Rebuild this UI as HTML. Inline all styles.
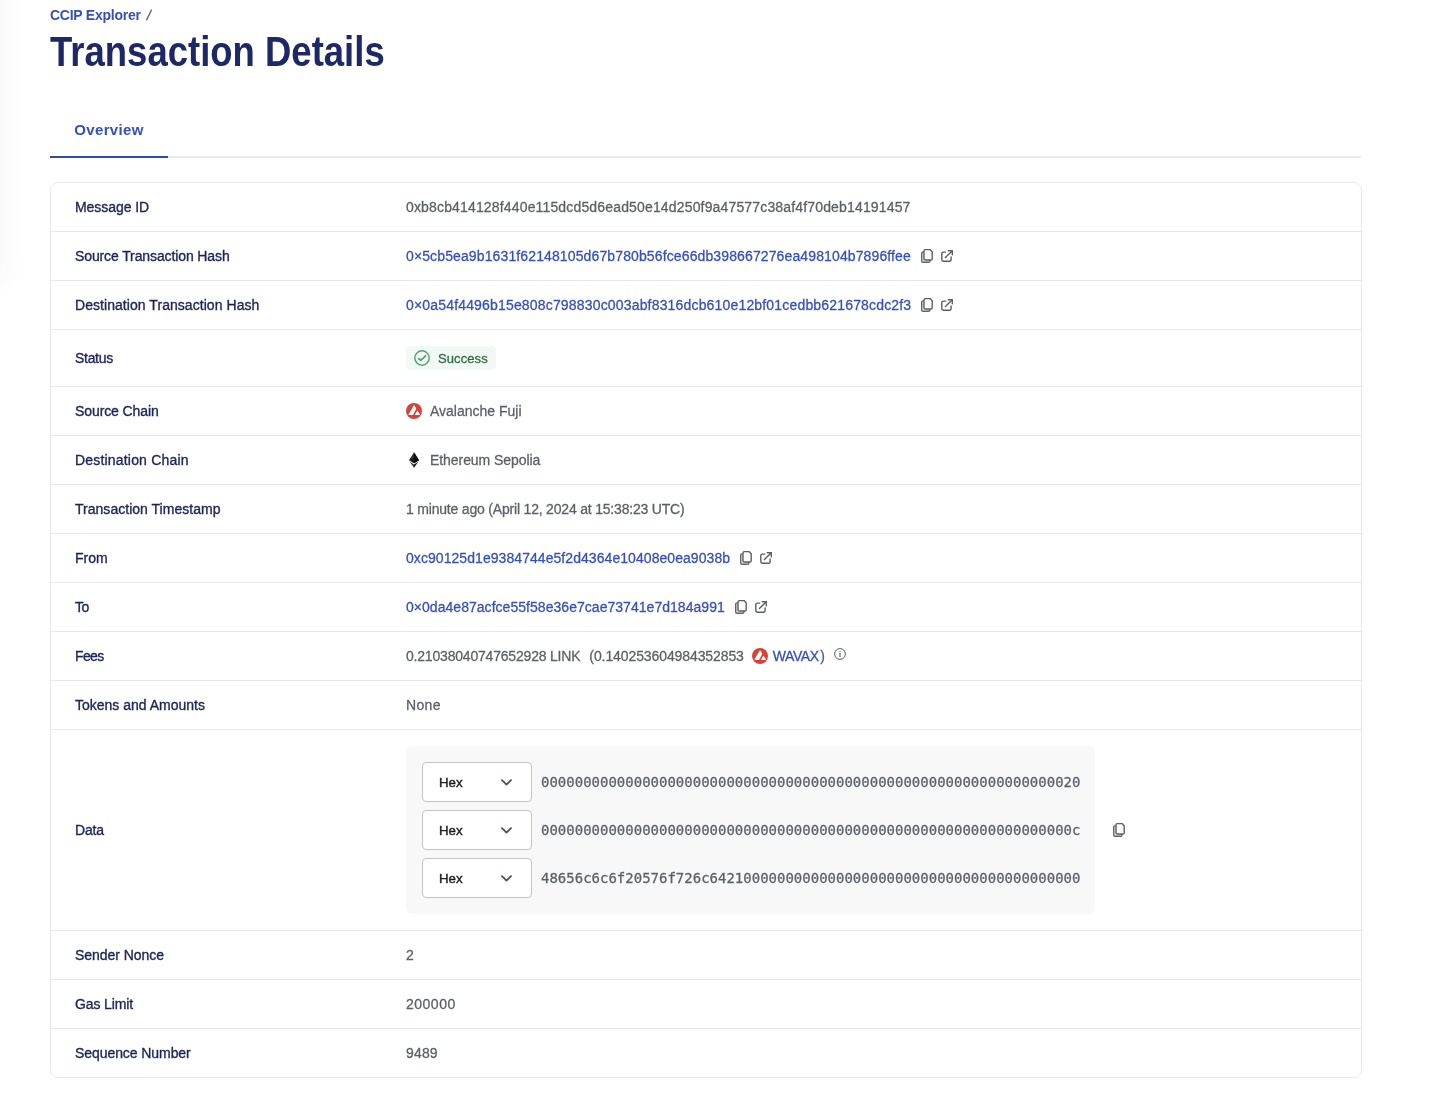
<!DOCTYPE html>
<html lang="en">
<head>
<meta charset="utf-8">
<title>Transaction Details</title>
<style>
*{box-sizing:border-box;margin:0;padding:0}
html,body{width:1435px;height:1114px;background:#fff;overflow:hidden}
body{font-family:"Liberation Sans",sans-serif;color:#5c5f69;position:relative;-webkit-font-smoothing:antialiased}
.edge{position:absolute;left:-20px;top:-20px;width:22px;height:296px;background:#f9fafc;box-shadow:0 0 22px 6px rgba(60,70,120,.035)}
.crumb{position:absolute;left:50px;top:6px;font-size:14px;line-height:18px;font-weight:700;color:#3650b8;white-space:nowrap}
.crumb span{color:#5c5f69;font-weight:400;margin-left:6px;font-size:14px;display:inline-block;transform:skewX(-12deg);-webkit-text-stroke:.3px}
h1{position:absolute;left:50px;top:28px;font-size:42.5px;line-height:48px;font-weight:700;color:#1d2866;white-space:nowrap;transform-origin:0 50%;transform:scaleX(0.8588)}
.tabs{position:absolute;left:50px;top:104px;width:1311px;height:54px;border-bottom:2px solid #e8e9ec}
.tab{position:absolute;left:0;top:0;width:118px;height:54px;border-bottom:2px solid #3048b0;color:#3650b8;font-size:15px;font-weight:700;line-height:51px;text-align:center}
.card{position:absolute;left:50px;top:182px;width:1312px;border:1px solid #e8e9ec;border-radius:8px;overflow:hidden}
.row{display:flex;align-items:center;height:49px;border-bottom:1px solid #e8e9ec;font-size:14px}
.row:last-child{border-bottom:0;height:48px}
.row.status{height:57px}
.row.data{height:201px}
.lbl{width:355px;padding-left:24px;color:#1b2559;font-size:14px;white-space:nowrap;-webkit-text-stroke:.35px #1b2559}
.val{flex:1;display:flex;align-items:center;white-space:nowrap;color:#5c5f69;-webkit-text-stroke:.28px}
a{color:#3650b8;text-decoration:none}
.ic{display:inline-block;flex:none}

.acts{display:inline-flex;align-items:center;margin-left:10px}
.acts .cp{margin-right:8px}
.ic{overflow:visible}
.badge{display:inline-flex;align-items:center;height:24px;padding:0 8px 0 8px;background:#f2f8f3;border-radius:4px;color:#2f6b45;font-size:13px}
.badge .ck{margin-right:8px}
.cn{margin-left:8px}
.ew{display:inline-flex;width:16px;justify-content:center}
.f2{margin-left:9px}
.av2{margin-left:8px;margin-right:5px}
.f4{margin-left:1.5px}
.in{margin-left:9px;position:relative;top:-2px}
.dbox{width:689px;height:168px;background:#f8f8f9;border-radius:6px;padding:16px;display:flex;flex-direction:column;gap:8px}
.dl{display:flex;align-items:center;height:40px}
.sel{flex:none;width:110px;height:40px;border:1px solid #c3c4c8;border-radius:4px;background:#fff;display:flex;align-items:center;justify-content:space-between;padding:0 19px 0 16px;color:#1c1c1f;font-size:13.3px;-webkit-text-stroke:.4px}
.mono{font-family:"DejaVu Sans Mono","Liberation Mono",monospace;font-size:14px;margin-left:9px;color:#5c5f69}
.cp2{margin-left:18px}
/*FIT*/
#crumb{letter-spacing:-0.250px}
#tab{letter-spacing:0.357px}
#l-mid{letter-spacing:-0.055px}
#l-src{letter-spacing:-0.115px}
#l-dst{letter-spacing:0.054px}
#l-st{letter-spacing:-0.300px}
#l-sc{letter-spacing:-0.093px}
#l-dc{letter-spacing:0.186px}
#l-ts{letter-spacing:0.025px}
#l-from{letter-spacing:-0.001px}
#l-to{letter-spacing:-0.500px}
#l-fee{letter-spacing:-0.666px}
#l-tok{letter-spacing:0.001px}
#l-data{letter-spacing:-0.167px}
#l-sn{letter-spacing:-0.045px}
#l-gl{letter-spacing:-0.125px}
#l-sq{letter-spacing:-0.071px}
#v-mid{letter-spacing:0.158px}
#v-src{letter-spacing:0.122px}
#v-dst{letter-spacing:0.172px}
#v-st{letter-spacing:0.083px}
#v-sc{letter-spacing:0.000px}
#v-dc{letter-spacing:-0.067px}
#v-ts{letter-spacing:-0.193px}
#v-from{letter-spacing:0.061px}
#v-to{letter-spacing:0.037px}
#v-f1{letter-spacing:-0.196px}
#v-f2{letter-spacing:-0.100px}
#v-f3{letter-spacing:-0.4px}
#v-tok{letter-spacing:0.333px}
#v-sn{letter-spacing:-1.000px}
#v-gl{letter-spacing:0.500px}
#v-sq{letter-spacing:0.167px}
/*ENDFIT*/
</style>
</head>
<body>
<div class="edge"></div>
<div class="crumb"><b id="crumb">CCIP Explorer</b><span>/</span></div>
<h1 id="ttl">Transaction Details</h1>
<div class="tabs"><div class="tab"><span id="tab">Overview</span></div></div>
<div class="card">
  <div class="row"><div class="lbl"><span id="l-mid">Message ID</span></div><div class="val"><span id="v-mid">0xb8cb414128f440e115dcd5d6ead50e14d250f9a47577c38af4f70deb14191457</span></div></div>
  <div class="row"><div class="lbl"><span id="l-src">Source Transaction Hash</span></div><div class="val"><a id="v-src">0×5cb5ea9b1631f62148105d67b780b56fce66db398667276ea498104b7896ffee</a><span class="acts"><svg class="ic cp" width="12" height="14" viewBox="0 0 12 14" fill="none" stroke="#5c5e66" stroke-width="1.4" stroke-linejoin="round" stroke-linecap="round"><path d="M3 2.9H2A1.3 1.3 0 0 0 .7 4.2V12A1.3 1.3 0 0 0 2 13.3h5.6A1.3 1.3 0 0 0 8.9 12v-1" stroke="#63656d" fill="#e9ebef"/><path d="M4.3.6h4.7l2.2 2.2v6.9A1.3 1.3 0 0 1 9.9 11H4.3A1.3 1.3 0 0 1 3 9.7V1.9A1.3 1.3 0 0 1 4.3.6z" fill="#fff"/></svg><svg class="ic ex" width="12" height="12" viewBox="0 0 12 12" fill="none" stroke="#5c5e66" stroke-width="1.4" stroke-linejoin="round" stroke-linecap="round"><path d="M4.7 2.1H2.2A1.4 1.4 0 0 0 .8 3.5v6.3A1.4 1.4 0 0 0 2.2 11.2h6.5a1.4 1.4 0 0 0 1.4-1.4V6.9"/><path d="M7.3.7h4v4"/><path d="M11.3.7L4.4 7.6"/></svg></span></div></div>
  <div class="row"><div class="lbl"><span id="l-dst">Destination Transaction Hash</span></div><div class="val"><a id="v-dst">0×0a54f4496b15e808c798830c003abf8316dcb610e12bf01cedbb621678cdc2f3</a><span class="acts"><svg class="ic cp" width="12" height="14" viewBox="0 0 12 14" fill="none" stroke="#5c5e66" stroke-width="1.4" stroke-linejoin="round" stroke-linecap="round"><path d="M3 2.9H2A1.3 1.3 0 0 0 .7 4.2V12A1.3 1.3 0 0 0 2 13.3h5.6A1.3 1.3 0 0 0 8.9 12v-1" stroke="#63656d" fill="#e9ebef"/><path d="M4.3.6h4.7l2.2 2.2v6.9A1.3 1.3 0 0 1 9.9 11H4.3A1.3 1.3 0 0 1 3 9.7V1.9A1.3 1.3 0 0 1 4.3.6z" fill="#fff"/></svg><svg class="ic ex" width="12" height="12" viewBox="0 0 12 12" fill="none" stroke="#5c5e66" stroke-width="1.4" stroke-linejoin="round" stroke-linecap="round"><path d="M4.7 2.1H2.2A1.4 1.4 0 0 0 .8 3.5v6.3A1.4 1.4 0 0 0 2.2 11.2h6.5a1.4 1.4 0 0 0 1.4-1.4V6.9"/><path d="M7.3.7h4v4"/><path d="M11.3.7L4.4 7.6"/></svg></span></div></div>
  <div class="row status"><div class="lbl"><span id="l-st">Status</span></div><div class="val"><span class="badge"><svg class="ic ck" width="16" height="16" viewBox="0 0 16 16" fill="none" stroke="#58a56b" stroke-width="1.5" stroke-linecap="round" stroke-linejoin="round"><circle cx="8" cy="8" r="7.2"/><path d="M4.7 8.6l2.1 1.8 4.9-4.5" stroke="#4f9a60"/></svg><span id="v-st">Success</span></span></div></div>
  <div class="row"><div class="lbl"><span id="l-sc">Source Chain</span></div><div class="val"><svg class="ic av" width="16" height="16" viewBox="0 0 16 16"><circle cx="8" cy="8" r="8" fill="#d4443b"/><path d="M7.7 2.6c.2-.3.6-.3.8 0L10 5.2c.2.35.2.75 0 1.1l-2.7 5.1c-.2.4-.6.6-1 .6H3.1c-.5 0-.7-.4-.5-.8z" fill="#fff"/><path d="M11 8.3c.2-.35.7-.35.9 0l1.9 3c.2.35 0 .7-.4.7H9.5c-.4 0-.6-.35-.4-.7z" fill="#fff"/></svg><span class="cn" id="v-sc">Avalanche Fuji</span></div></div>
  <div class="row"><div class="lbl"><span id="l-dc">Destination Chain</span></div><div class="val"><span class="ew"><svg class="ic et" width="10" height="16" viewBox="0 0 10 16"><path d="M5 .3L0 8.3 5 11.2l5-2.9z" fill="#2e2e32"/><path d="M5 .3v10.9l5-2.9z" fill="#131316"/><path d="M0 8.3l5-2.2 5 2.2-5 2.9z" fill="#000" opacity=".35"/><path d="M.5 9.6L5 15.8V12.4z" fill="#3a3a3e"/><path d="M9.5 9.6L5 15.8v-3.4z" fill="#18181b"/></svg></span><span class="cn" id="v-dc">Ethereum Sepolia</span></div></div>
  <div class="row"><div class="lbl"><span id="l-ts">Transaction Timestamp</span></div><div class="val"><span id="v-ts">1 minute ago (April 12, 2024 at 15:38:23 UTC)</span></div></div>
  <div class="row"><div class="lbl"><span id="l-from">From</span></div><div class="val"><a id="v-from">0xc90125d1e9384744e5f2d4364e10408e0ea9038b</a><span class="acts"><svg class="ic cp" width="12" height="14" viewBox="0 0 12 14" fill="none" stroke="#5c5e66" stroke-width="1.4" stroke-linejoin="round" stroke-linecap="round"><path d="M3 2.9H2A1.3 1.3 0 0 0 .7 4.2V12A1.3 1.3 0 0 0 2 13.3h5.6A1.3 1.3 0 0 0 8.9 12v-1" stroke="#63656d" fill="#e9ebef"/><path d="M4.3.6h4.7l2.2 2.2v6.9A1.3 1.3 0 0 1 9.9 11H4.3A1.3 1.3 0 0 1 3 9.7V1.9A1.3 1.3 0 0 1 4.3.6z" fill="#fff"/></svg><svg class="ic ex" width="12" height="12" viewBox="0 0 12 12" fill="none" stroke="#5c5e66" stroke-width="1.4" stroke-linejoin="round" stroke-linecap="round"><path d="M4.7 2.1H2.2A1.4 1.4 0 0 0 .8 3.5v6.3A1.4 1.4 0 0 0 2.2 11.2h6.5a1.4 1.4 0 0 0 1.4-1.4V6.9"/><path d="M7.3.7h4v4"/><path d="M11.3.7L4.4 7.6"/></svg></span></div></div>
  <div class="row"><div class="lbl"><span id="l-to">To</span></div><div class="val"><a id="v-to">0×0da4e87acfce55f58e36e7cae73741e7d184a991</a><span class="acts"><svg class="ic cp" width="12" height="14" viewBox="0 0 12 14" fill="none" stroke="#5c5e66" stroke-width="1.4" stroke-linejoin="round" stroke-linecap="round"><path d="M3 2.9H2A1.3 1.3 0 0 0 .7 4.2V12A1.3 1.3 0 0 0 2 13.3h5.6A1.3 1.3 0 0 0 8.9 12v-1" stroke="#63656d" fill="#e9ebef"/><path d="M4.3.6h4.7l2.2 2.2v6.9A1.3 1.3 0 0 1 9.9 11H4.3A1.3 1.3 0 0 1 3 9.7V1.9A1.3 1.3 0 0 1 4.3.6z" fill="#fff"/></svg><svg class="ic ex" width="12" height="12" viewBox="0 0 12 12" fill="none" stroke="#5c5e66" stroke-width="1.4" stroke-linejoin="round" stroke-linecap="round"><path d="M4.7 2.1H2.2A1.4 1.4 0 0 0 .8 3.5v6.3A1.4 1.4 0 0 0 2.2 11.2h6.5a1.4 1.4 0 0 0 1.4-1.4V6.9"/><path d="M7.3.7h4v4"/><path d="M11.3.7L4.4 7.6"/></svg></span></div></div>
  <div class="row"><div class="lbl"><span id="l-fee">Fees</span></div><div class="val"><span class="f1" id="v-f1">0.21038040747652928 LINK</span><span class="f2" id="v-f2">(0.140253604984352853</span><svg class="ic av2" width="16" height="16" viewBox="0 0 16 16"><circle cx="8" cy="8" r="8" fill="#d4443b"/><path d="M7.7 2.6c.2-.3.6-.3.8 0L10 5.2c.2.35.2.75 0 1.1l-2.7 5.1c-.2.4-.6.6-1 .6H3.1c-.5 0-.7-.4-.5-.8z" fill="#fff"/><path d="M11 8.3c.2-.35.7-.35.9 0l1.9 3c.2.35 0 .7-.4.7H9.5c-.4 0-.6-.35-.4-.7z" fill="#fff"/></svg><a class="f3" id="v-f3">WAVAX</a><span class="f4">)</span><svg class="ic in" width="12" height="12" viewBox="0 0 12 12" fill="none" stroke="#5a5d68" stroke-width="1"><circle cx="6" cy="6" r="5.4"/><path d="M6 5.3v3.2" stroke-width="1.1" stroke-linecap="round"/><circle cx="6" cy="3.6" r=".65" fill="#5a5d68" stroke="none"/></svg></div></div>
  <div class="row"><div class="lbl"><span id="l-tok">Tokens and Amounts</span></div><div class="val"><span id="v-tok">None</span></div></div>
  <div class="row data"><div class="lbl"><span id="l-data">Data</span></div><div class="val"><div class="dbox"><div class="dl"><span class="sel"><span>Hex</span><svg class="ic cv" width="11" height="7" viewBox="0 0 11 7" fill="none" stroke="#50525a" stroke-width="1.8" stroke-linecap="round" stroke-linejoin="round"><path d="M1 1.2L5.5 5.6 10 1.2"/></svg></span><span class="mono">0000000000000000000000000000000000000000000000000000000000000020</span></div><div class="dl"><span class="sel"><span>Hex</span><svg class="ic cv" width="11" height="7" viewBox="0 0 11 7" fill="none" stroke="#50525a" stroke-width="1.8" stroke-linecap="round" stroke-linejoin="round"><path d="M1 1.2L5.5 5.6 10 1.2"/></svg></span><span class="mono">000000000000000000000000000000000000000000000000000000000000000c</span></div><div class="dl"><span class="sel"><span>Hex</span><svg class="ic cv" width="11" height="7" viewBox="0 0 11 7" fill="none" stroke="#50525a" stroke-width="1.8" stroke-linecap="round" stroke-linejoin="round"><path d="M1 1.2L5.5 5.6 10 1.2"/></svg></span><span class="mono">48656c6c6f20576f726c64210000000000000000000000000000000000000000</span></div></div><svg class="ic cp2" width="12" height="14" viewBox="0 0 12 14" fill="none" stroke="#5c5e66" stroke-width="1.4" stroke-linejoin="round" stroke-linecap="round"><path d="M3 2.9H2A1.3 1.3 0 0 0 .7 4.2V12A1.3 1.3 0 0 0 2 13.3h5.6A1.3 1.3 0 0 0 8.9 12v-1" stroke="#63656d" fill="#e9ebef"/><path d="M4.3.6h4.7l2.2 2.2v6.9A1.3 1.3 0 0 1 9.9 11H4.3A1.3 1.3 0 0 1 3 9.7V1.9A1.3 1.3 0 0 1 4.3.6z" fill="#fff"/></svg></div></div>
  <div class="row"><div class="lbl"><span id="l-sn">Sender Nonce</span></div><div class="val"><span id="v-sn">2</span></div></div>
  <div class="row"><div class="lbl"><span id="l-gl">Gas Limit</span></div><div class="val"><span id="v-gl">200000</span></div></div>
  <div class="row"><div class="lbl"><span id="l-sq">Sequence Number</span></div><div class="val"><span id="v-sq">9489</span></div></div>
</div>
</body>
</html>
